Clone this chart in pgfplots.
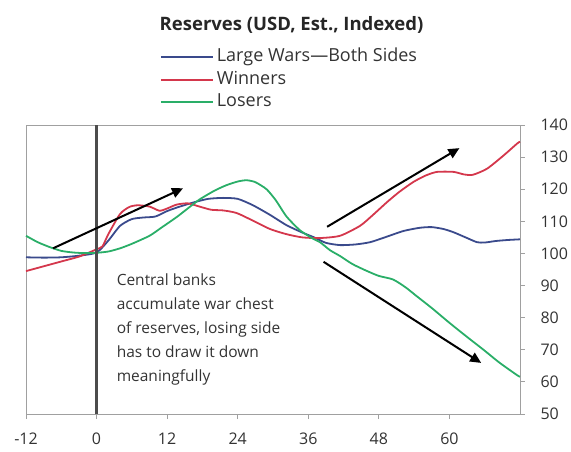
\documentclass[border=0pt]{standalone}
\usepackage{fontspec}
\setmainfont{Open Sans}
\usepackage{pgfplots}
\pgfplotsset{compat=1.18}
\usetikzlibrary{arrows.meta}
\definecolor{cblue}{HTML}{3A4A8C}
\definecolor{cred}{HTML}{D4374C}
\definecolor{cgreen}{HTML}{2AAE68}
\definecolor{axgray}{HTML}{A0A0A0}
\begin{document}
\begin{tikzpicture}
\path[use as bounding box] (-26pt,-37pt) rectangle (545pt,414pt);
\begin{axis}[
  scale only axis,
  width=494pt, height=289pt,
  xmin=-12, xmax=72, ymin=50, ymax=140,
  xtick={-12,0,12,24,36,48,60},
  ytick={50,60,...,140},
  xtick pos=bottom, ytick pos=right,
  yticklabel pos=right,
  axis line style={axgray, line width=0.8pt},
  tick style={axgray, line width=0.8pt},
  tick align=outside,
  major tick length=5pt,
  /pgf/number format/assume math mode=true,
  tick label style={font=\fontsize{16}{18}\selectfont, text=black!80},
  xticklabel style={yshift=-10pt},
  yticklabel style={anchor=west, xshift=12pt},
  legend style={at={(0.271,1.265)}, anchor=north west, draw=none, fill=none,
    inner sep=0pt, row sep=5pt, font=\fontsize{18}{20}\selectfont,
    nodes={text height=13pt, text depth=4.5pt, inner ysep=0pt, inner xsep=3pt, text=black!80}},
  legend cell align=left,
  legend image code/.code={\draw[#1] (0pt,0pt) -- (52pt,0pt);},
  clip=false,
]
\addplot[cblue, line width=1.8pt, smooth, tension=0.4] coordinates {
(-12,98.8) (-9,98.7) (-6,98.8) (-3,99.3) (0,100.3) (2,104) (4,108.6) (6,110.7) (8,111.2) (10,111.5) (12,113.2) (14,114.5) (16.7,116) (19,117) (21.5,117.3) (24,117) (26.6,115) (29.5,112) (32.3,108.8) (35,106.5) (37,105) (39,103.3) (41.4,102.6) (44,102.8) (46.5,103.5) (49,105) (52.2,107) (55,108) (57,108.2) (59,107.6) (60.7,106.6) (63,104.8) (64.7,103.5) (66,103.4) (68,103.9) (70,104.2) (72,104.4)
};
\addlegendentry{Large Wars—Both Sides}
\addplot[cred, line width=1.8pt, smooth, tension=0.4] coordinates {
(-12,94.5) (-9,96) (-6,97.5) (-3,99) (-1,100.5) (0,101.3) (1,102.2) (2,106) (4,112.3) (5.6,114.5) (7,115) (9,114.6) (10.7,113.3) (12,114) (13.6,115.2) (15.5,115.6) (17.5,114.6) (19.5,113.6) (21.5,113.4) (23.8,112.6) (26.6,110.2) (29.5,107.6) (32.3,106) (35,105) (38,104.8) (41.4,105.5) (44.8,108.6) (47,112) (49.4,116) (51.5,119.2) (53.9,122.3) (56,124.3) (57.9,125.4) (60.7,125.4) (62.5,124.6) (64,124.5) (66.4,126.4) (69.2,130.5) (71.5,134.2) (72,134.8)
};
\addlegendentry{Winners}
\addplot[cgreen, line width=1.8pt, smooth, tension=0.4] coordinates {
(-12,105.5) (-10,103.5) (-8,102) (-6,100.8) (-4,100.3) (-2,100.1) (0,100.2) (2,100.6) (4,101.6) (6,103) (9,105.5) (11,108) (13.6,111.3) (15.5,114) (17.5,116.8) (20,119.5) (22,121.2) (24,122.4) (25.5,122.8) (27,122.2) (28.9,120) (30.5,116.5) (32.3,111.5) (34.6,107.2) (36.8,104.6) (38,103.5) (39.7,101) (41.4,99.2) (43.5,96.7) (45.9,94.6) (48,93) (50.4,91.9) (52.5,89.5) (54.5,86.6) (57,83) (60,78.4) (63,74) (65.8,70) (68.5,66) (71.5,62.1) (72,61.6)
};
\addlegendentry{Losers}
\draw[black!70, line width=2.5pt] (axis cs:0,50) -- (axis cs:0,140);
\draw[black, line width=2pt, -{Triangle[length=11pt,width=10pt]}] (axis cs:-7.4,101.6) -- (axis cs:14.7,120.3);
\draw[black, line width=2pt, -{Triangle[length=11pt,width=10pt]}] (axis cs:39.2,108.3) -- (axis cs:61.7,132.8);
\draw[black, line width=2pt, -{Triangle[length=11pt,width=10pt]}] (axis cs:38.6,97.4) -- (axis cs:65.4,65.9);
\node[anchor=north west, align=left, inner sep=0pt, text=black!80,
  font=\fontsize{15.5}{23.8}\selectfont] at (axis cs:3.4,93.6)
  {Central banks\\accumulate war chest\\of reserves, losing side\\has to draw it down\\meaningfully};
\end{axis}
\node[font=\bfseries\fontsize{18.5}{20}\selectfont, text=black!85] at (265.5pt,389.5pt) {Reserves (USD, Est., Indexed)};
\end{tikzpicture}
\end{document}
